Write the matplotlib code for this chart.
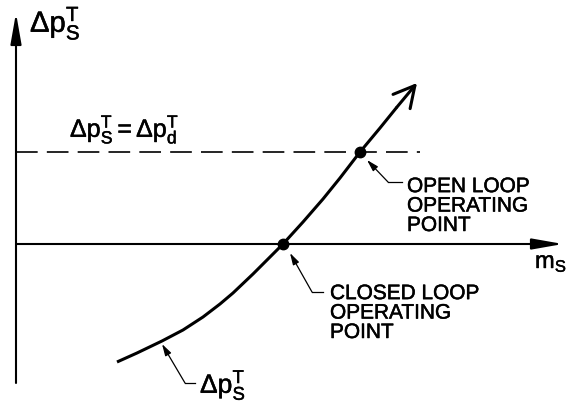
import matplotlib
matplotlib.use("Agg")
import matplotlib.pyplot as plt
import matplotlib.patheffects as pe

plt.rcParams["font.family"] = ["Liberation Sans", "DejaVu Sans"]
plt.rcParams["mathtext.fontset"] = "custom"
plt.rcParams["mathtext.rm"] = "Liberation Sans"
plt.rcParams["mathtext.it"] = "Liberation Sans"
plt.rcParams["mathtext.bf"] = "Liberation Sans:bold"

# system curve dp_s^T vs m_s (arbitrary units, origin at the axes crossing)
mass_flow = [1.01, 1.21, 1.46, 1.67, 1.87, 2.04, 2.17, 2.37, 2.67, 2.87, 3.07, 3.24, 3.44,
             3.64, 3.81, 4.01]
dp_total = [-1.18, -1.09, -0.97, -0.86, -0.73, -0.60, -0.49, -0.30, 0.00, 0.22, 0.45, 0.66,
            0.92, 1.16, 1.37, 1.61]

# level of the design pressure drop dp_d^T
dp_design = 0.92

# operating points (m_s, dp)
closed_loop_point = (2.67, 0.00)
open_loop_point = (3.44, 0.92)

LW_AXIS = 1.5
LW_CURVE = 2.2
LW_LEADER = 0.9

fig = plt.figure(figsize=(5.7, 4.08), dpi=100)
ax = fig.add_axes([0, 0, 1, 1])
ax.set_xlim(-0.16, 5.54)
ax.set_ylim(-1.64, 2.44)
ax.axis("off")

# axes with filled arrow heads
axis_arrow = dict(arrowstyle="-|>,head_length=1.25,head_width=0.22", lw=LW_AXIS,
                  color="black", mutation_scale=15, shrinkA=0, shrinkB=0)
ax.annotate("", xy=(0, 2.31), xytext=(0, -1.39), arrowprops=axis_arrow)
ax.annotate("", xy=(5.47, 0), xytext=(0, 0), arrowprops=axis_arrow)

# dashed design line
ax.plot([0, 4.04], [dp_design, dp_design], color="black", lw=1.2, dashes=(13, 5.5))

# system curve with open arrow at the end
ax.plot(mass_flow[:-1], dp_total[:-1], color="black", lw=LW_CURVE,
        solid_capstyle="butt", solid_joinstyle="round")
ax.annotate("", xy=(mass_flow[-1], dp_total[-1]), xytext=(mass_flow[-2], dp_total[-2]),
            arrowprops=dict(arrowstyle="->,head_length=0.75,head_width=0.4", lw=LW_CURVE,
                            color="black", mutation_scale=20, shrinkA=0, shrinkB=0))

# operating points
ax.plot(*closed_loop_point, "o", color="black", ms=7.5)
ax.plot(*open_loop_point, "o", color="black", ms=7.5)


def leader(tip, elbow, end):
    ax.plot([elbow[0], end[0]], [elbow[1], end[1]], color="black", lw=LW_LEADER)
    ax.annotate("", xy=tip, xytext=elbow,
                arrowprops=dict(arrowstyle="-|>,head_length=0.7,head_width=0.2", lw=LW_LEADER,
                                color="black", mutation_scale=10, shrinkA=0, shrinkB=0))


leader((3.51, 0.84), (3.72, 0.62), (3.86, 0.62))
leader((2.74, -0.09), (2.96, -0.48), (3.07, -0.48))
leader((1.46, -1.00), (1.69, -1.39), (1.79, -1.39))

# slightly heavier lettering, like the inked original
ink = [pe.withStroke(linewidth=0.35, foreground="black")]

# va="baseline" on multi-line text aligns the last line
cap_kw = dict(fontsize=15, ha="left", va="baseline", linespacing=1.03, path_effects=ink)
ax.text(3.91, 0.13, "OPEN LOOP\nOPERATING\nPOINT", **cap_kw)
ax.text(3.14, -0.94, "CLOSED LOOP\nOPERATING\nPOINT", **cap_kw)

ax.text(0.14, 2.12, r"$\Delta\mathrm{p}_\mathrm{S}^\mathrm{T}$", fontsize=21, ha="left",
        va="baseline", path_effects=ink)
ax.text(0.54, 1.07, r"$\Delta\mathrm{p}_\mathrm{S}^\mathrm{T} = \Delta\mathrm{p}_\mathrm{d}^\mathrm{T}$",
        fontsize=18, ha="left", va="baseline", path_effects=ink)
ax.text(5.19, -0.24, r"$\mathrm{m}_\mathrm{S}$", fontsize=17, ha="left", va="baseline",
        path_effects=ink)
ax.text(1.84, -1.49, r"$\Delta\mathrm{p}_\mathrm{S}^\mathrm{T}$", fontsize=19, ha="left",
        va="baseline", path_effects=ink)

fig.savefig("out.png", dpi=100, facecolor="white")
